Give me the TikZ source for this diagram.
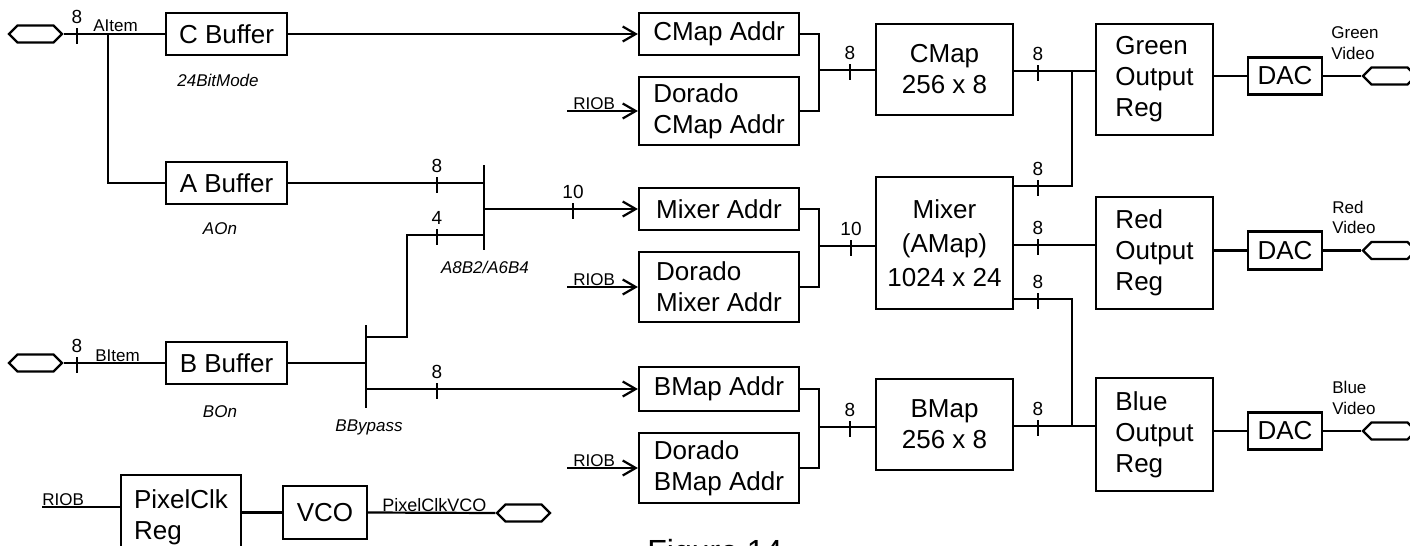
\documentclass[tikz,border=0pt]{standalone}
\usepackage{fontspec}
\setmainfont{Liberation Sans}
\usetikzlibrary{arrows.meta,shapes.symbols}
\newcommand\mainf{\fontsize{13pt}{15.5pt}\selectfont}
\newcommand\tickf{\fontsize{9.5pt}{10pt}\selectfont}
\newcommand\lblf{\fontsize{8.5pt}{10pt}\selectfont}
\newcommand\itf{\fontsize{8.5pt}{10pt}\selectfont\itshape}
\tikzset{
  wire/.style={line width=1.1pt},
  arr/.style={wire,-{Straight Barb[length=6.5pt,width=7.5pt,line width=1.1pt]}},
  box/.style={draw,line width=1.1pt,inner sep=0pt,align=center,font=\mainf},
  lbox/.style={box,align=left},
  hexa/.style={draw,line width=1.1pt,shape=signal,signal to=west and east,minimum width=26.5pt,minimum height=8.5pt,inner sep=0pt},
  lbl/.style={inner sep=0pt,font=\lblf},
  itl/.style={inner sep=0pt,font=\itf},
  tk/.style={inner sep=0pt,font=\tickf},
  bus/.pic={\draw[wire] (0,-6) -- (0,10); \node[tk] at (0,-17) {#1};}
}
\begin{document}
\begin{tikzpicture}[x=0.5pt,y=-0.5pt]
\useasboundingbox (0,0) rectangle (1410,546);
\clip (0,0) rectangle (1410,546);
% left buffers
\node[hexa] (hexA) at (35.5,34) {};
\node[hexa] (hexB) at (35.5,363) {};
\node[box,minimum width=60.5pt,minimum height=21pt] (cbuf) at (226.5,34) {C Buffer};
\node[box,minimum width=60.5pt,minimum height=21pt] (abuf) at (226.5,183) {A Buffer};
\node[box,minimum width=60.5pt,minimum height=21pt] (bbuf) at (226.5,363) {B Buffer};
\node[itl] (l24) at (218,80) {24BitMode};
\node[itl] (lAOn) at (220,229) {AOn};
\node[itl] (lBOn) at (220,412) {BOn};
\node[itl] (lBBy) at (369,427) {BBypass};
\node[itl] (lA8) at (485,267) {A8B2/A6B4};
% address boxes
\node[box,minimum width=80pt,minimum height=21pt] (cma) at (719,34) {CMap Addr};
\node[lbox,minimum width=80pt,minimum height=34pt] (dcma) at (719,111) {Dorado\\CMap Addr};
\node[box,minimum width=80pt,minimum height=21pt] (mxa) at (719,209) {Mixer Addr};
\node[lbox,minimum width=80pt,minimum height=35pt] (dmxa) at (719,287) {Dorado\\Mixer Addr};
\node[box,minimum width=80pt,minimum height=22pt] (bma) at (719,389) {BMap Addr};
\node[lbox,minimum width=80pt,minimum height=35pt] (dbma) at (719,468) {Dorado\\BMap Addr};
% maps
\node[box,minimum width=68.5pt,minimum height=45.5pt] (cmap) at (944.5,69.5) {CMap\\256 x 8};
\node[box,minimum width=68.5pt,minimum height=66pt,font=\fontsize{13pt}{17pt}\selectfont] (mix) at (944.5,243) {Mixer\\(AMap)\\1024 x 24};
\node[box,minimum width=68.5pt,minimum height=45.5pt] (bmap) at (944.5,424.5) {BMap\\256 x 8};
% output regs
\node[lbox,minimum width=58.5pt,minimum height=55.5pt] (gre) at (1154.5,79.5) {Green\\Output\\Reg};
\node[lbox,minimum width=58.5pt,minimum height=56pt] (red) at (1154.5,253) {Red\\Output\\Reg};
\node[lbox,minimum width=58.5pt,minimum height=56.5pt] (blu) at (1154.5,434.5) {Blue\\Output\\Reg};
\node[box,minimum width=37pt,minimum height=18.5pt] (dacg) at (1285,76) {DAC};
\node[box,minimum width=37pt,minimum height=19pt] (dacr) at (1285,250.5) {DAC};
\node[box,minimum width=37pt,minimum height=18.5pt] (dacb) at (1285,431) {DAC};
\node[hexa] (hexG) at (1389.5,76) {};
\node[hexa] (hexR) at (1389.5,250.5) {};
\node[hexa] (hexL) at (1389.5,431) {};
\node[lbl,anchor=base west] (gv1) at (1331,39) {Green};
\node[lbl,anchor=base west] (gv2) at (1331,60) {Video};
\node[lbl,anchor=base west] (rv1) at (1332,213) {Red};
\node[lbl,anchor=base west] (rv2) at (1332,233) {Video};
\node[lbl,anchor=base west] (bv1) at (1332,393) {Blue};
\node[lbl,anchor=base west] (bv2) at (1332,414) {Video};
% pixel clock
\node[lbox,minimum width=60pt,minimum height=42.5pt] (pclk) at (181,517.5) {PixelClk\\Reg};
\node[box,minimum width=42pt,minimum height=26.5pt] (vco) at (325,512.5) {VCO};
\node[hexa] (hexV) at (523.5,513) {};
\node[font=\fontsize{16pt}{18pt}\selectfont,inner sep=0pt,anchor=north west] (fig) at (647,539) {Figure 14};

% ---- wires: A/C input
\draw[wire] (hexA.east) -- (cbuf.west);
\pic at (77,34) {bus=8};
\node[lbl,anchor=base west] (lAI) at (93,32) {AItem};
\coordinate (ja) at (108,34);
\draw[wire] (ja) |- (abuf.west);
\draw[arr] (cbuf.east) -- (cma.west);
% B input
\draw[wire] (hexB.east) -- (bbuf.west);
\pic at (77,363) {bus=8};
\node[lbl,anchor=base west] (lBI) at (95,361) {BItem};
% B bypass bar
\coordinate (bt) at (366,325);
\coordinate (bb) at (366,408);
\draw[wire] (bt) -- (bb);
\draw[wire] (bbuf.east) -- (bbuf.east -| bt);
% A mux bar
\coordinate (mt) at (484,165);
\coordinate (mb) at (484,250);
\draw[wire] (mt) -- (mb);
\draw[wire] (abuf.east) -- (abuf.east -| mt);
\pic at (437,183) {bus=8};
\coordinate (b1) at (366,337);
\coordinate (b2) at (407,235);
\coordinate (m4) at (484,235);
\draw[wire] (b1) -| (b2) -- (m4);
\pic at (437,235) {bus=4};
\coordinate (mo) at (484,209);
\draw[arr] (mo) -- (mxa.west);
\pic at (573,209) {bus=10};
\coordinate (b3) at (366,389);
\draw[arr] (b3) -- (bma.west);
\pic at (437,389) {bus=8};
% RIOB inputs
\coordinate (r1) at (567,111);
\draw[arr] (r1) -- (dcma.west);
\node[lbl,anchor=base west] (lr1) at (573,109) {RIOB};
\coordinate (r2) at (567,287);
\draw[arr] (r2) -- (dmxa.west);
\node[lbl,anchor=base west] (lr2) at (573,285) {RIOB};
\coordinate (r3) at (567,468);
\draw[arr] (r3) -- (dbma.west);
\node[lbl,anchor=base west] (lr3) at (573,466) {RIOB};
% merges into maps
\coordinate (mc) at (819,70);
\draw[wire] (cma.east) -| (mc) |- (dcma.east);
\draw[wire] (mc) -- (cmap.west |- mc);
\pic at (850,70) {bus=8};
\coordinate (mxc) at (819,246);
\draw[wire] (mxa.east) -| (mxc) |- (dmxa.east);
\draw[wire] (mxc) -- (mix.west |- mxc);
\pic at (851,246) {bus=10};
\coordinate (bmc) at (819,427);
\draw[wire] (bma.east) -| (bmc) |- (dbma.east);
\draw[wire] (bmc) -- (bmap.west |- bmc);
\pic at (850,427) {bus=8};
% map outputs
\coordinate (gj) at (1072,71);
\coordinate (g2) at (1072,186);
\draw[wire] (cmap.east |- gj) -- (gre.west |- gj);
\draw[wire] (gj) -- (g2) -- (g2 -| mix.east);
\pic at (1038,71) {bus=8};
\pic at (1038,186) {bus=8};
\coordinate (ry) at (1038,245);
\draw[wire] (mix.east |- ry) -- (red.west |- ry);
\pic at (1038,245) {bus=8};
\coordinate (b4) at (1072,299);
\coordinate (bj) at (1072,426);
\draw[wire] (mix.east |- b4) -- (b4) -- (bj);
\draw[wire] (bmap.east |- bj) -- (blu.west |- bj);
\pic at (1038,299) {bus=8};
\pic at (1038,426) {bus=8};
% DACs
\draw[wire] (gre.east |- dacg.west) -- (dacg.west);
\draw[wire] (dacg.east) -- (hexG.west);
\draw[wire] (red.east |- dacr.west) -- (dacr.west);
\draw[wire] (dacr.east) -- (hexR.west);
\draw[wire] (blu.east |- dacb.west) -- (dacb.west);
\draw[wire] (dacb.east) -- (hexL.west);
% pixel clock
\coordinate (r4) at (42,507);
\draw[wire] (r4) -- (pclk.west |- r4);
\node[lbl,anchor=base west] (lr4) at (42,505) {RIOB};
\draw[wire] (pclk.east |- vco.west) -- (vco.west);
\draw[wire] (vco.east) -- (hexV.west);
\node[lbl,font=\fontsize{9pt}{10pt}\selectfont,anchor=base west] (lpv) at (382,511) {PixelClkVCO};
\end{tikzpicture}
\end{document}
